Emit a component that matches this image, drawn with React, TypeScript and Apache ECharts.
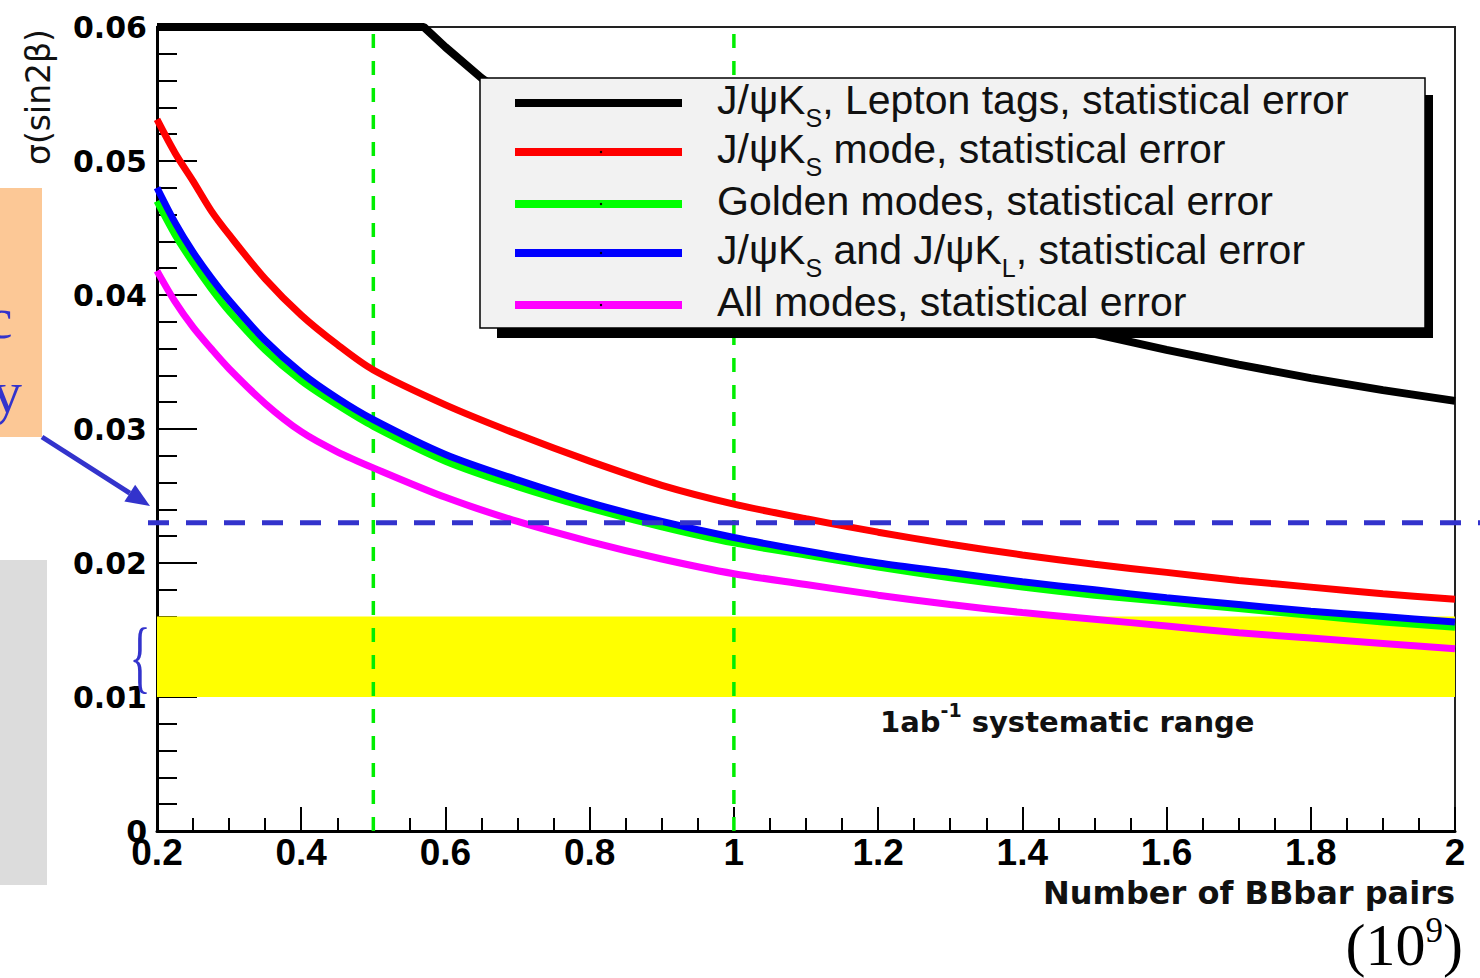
import React, { useEffect, useRef } from "react";
import * as echarts from "echarts";

// ---- data ----
const xPoints = [0.2, 0.225, 0.25, 0.275, 0.3, 0.35, 0.4, 0.45, 0.5, 0.6, 0.7, 0.8, 0.9, 1.0, 1.1, 1.2, 1.3, 1.4, 1.5, 1.6, 1.7, 1.8, 1.9, 2.0];
const redJpsiKs = [0.0531, 0.0506, 0.0485, 0.0463, 0.0445, 0.0412, 0.0385, 0.0363, 0.0344, 0.0318, 0.0296, 0.0276, 0.0258, 0.0244, 0.0233, 0.0223, 0.0214, 0.0206, 0.0199, 0.0193, 0.0187, 0.0182, 0.0177, 0.0173];
const greenGolden = [0.047, 0.0445, 0.0424, 0.0405, 0.0388, 0.0359, 0.0336, 0.0318, 0.0302, 0.0276, 0.0257, 0.0241, 0.0227, 0.0215, 0.0206, 0.0197, 0.0189, 0.0182, 0.0176, 0.0171, 0.0166, 0.0161, 0.0156, 0.0152];
const blueKsKl = [0.048, 0.0454, 0.0432, 0.0413, 0.0396, 0.0366, 0.0342, 0.0323, 0.0307, 0.0281, 0.0262, 0.0245, 0.0231, 0.0219, 0.0209, 0.02, 0.0193, 0.0186, 0.018, 0.0174, 0.0169, 0.0164, 0.016, 0.0156];
const magentaAll = [0.0418, 0.0395, 0.0376, 0.036, 0.0345, 0.0319, 0.0298, 0.0283, 0.0271, 0.0249, 0.0231, 0.0216, 0.0203, 0.0192, 0.0184, 0.0176, 0.0169, 0.0163, 0.0158, 0.0153, 0.0148, 0.0144, 0.014, 0.0136];

const xBlack = [0.2, 0.3, 0.4, 0.5, 0.57, 0.6, 0.65, 0.7, 0.8, 0.9, 1.0, 1.1, 1.2, 1.3, 1.4, 1.5, 1.6, 1.7, 1.8, 1.9, 2.0];
const blackLepton = [0.06, 0.06, 0.06, 0.06, 0.06, 0.0585, 0.0562, 0.0543, 0.0507, 0.0478, 0.0454, 0.0433, 0.0414, 0.0398, 0.0384, 0.0371, 0.0359, 0.0348, 0.0338, 0.0329, 0.0321];

const markerXs = [0.5, 1.0];
const bandLow = 0.01;
const bandHigh = 0.016;
const refLevel = 0.023;

const legendRows = [
  { color: "#000000", text: "{m|J/ψK}{s|S}{m|, Lepton tags, statistical error}" },
  { color: "#ff0000", text: "{m|J/ψK}{s|S}{m| mode, statistical error}" },
  { color: "#00ff00", text: "{m|Golden modes, statistical error}" },
  { color: "#0000ff", text: "{m|J/ψK}{s|S}{m| and J/ψK}{s|L}{m|, statistical error}" },
  { color: "#ff00ff", text: "{m|All modes, statistical error}" },
];

const pair = (xs: number[], ys: number[]) => xs.map((x, i) => [x, ys[i]]);

export default function App() {
  const ref = useRef<HTMLDivElement>(null);
  useEffect(() => {
    const chart = echarts.init(ref.current!, null, { renderer: "svg" });
    const curve = (data: number[][], color: string, width: number, z: number, smooth: number | boolean) => ({
      type: "line",
      data,
      symbol: "none",
      smooth,
      z,
      silent: true,
      lineStyle: { color, width, cap: "butt" },
    });
    const option: any = {
      animation: false,
      backgroundColor: "#ffffff",
      grid: { left: 157, right: 25, top: 27, bottom: 147, show: true, borderColor: "#222", borderWidth: 2, backgroundColor: "#fff" },
      xAxis: {
        type: "value",
        min: 0.2,
        max: 2,
        interval: 0.2,
        axisLine: { lineStyle: { color: "#000", width: 3 } },
        axisTick: { inside: true, length: 24, lineStyle: { color: "#000", width: 2 } },
        minorTick: { show: true, splitNumber: 4, length: 13, lineStyle: { color: "#000", width: 2 } },
        splitLine: { show: false },
        axisLabel: {
          margin: 3,
          color: "#000",
          fontFamily: "Liberation Sans",
          fontWeight: "bold",
          fontSize: 37,
          formatter: (v: number) => String(Number(v.toFixed(1))),
        },
      },
      yAxis: {
        type: "value",
        min: 0,
        max: 0.06,
        interval: 0.01,
        axisLine: { lineStyle: { color: "#000", width: 3 } },
        axisTick: { inside: true, length: 40, lineStyle: { color: "#000", width: 2 } },
        minorTick: { show: true, splitNumber: 5, length: 20, lineStyle: { color: "#000", width: 2 } },
        splitLine: { show: false },
        axisLabel: {
          margin: 10,
          color: "#000",
          fontFamily: "DejaVu Sans",
          fontWeight: "bold",
          fontSize: 30,
          formatter: (v: number) => (v === 0 ? "0" : v.toFixed(2)),
        },
      },
      series: [
        {
          type: "line",
          data: [],
          z: 1,
          silent: true,
          markArea: {
            silent: true,
            itemStyle: { color: "#ffff00", opacity: 1 },
            data: [[{ yAxis: bandLow }, { yAxis: bandHigh }]],
          },
        },
        ...markerXs.map((mx) => ({
          type: "line",
          data: [[mx, 0], [mx, 0.06]],
          symbol: "none",
          z: 2,
          silent: true,
          lineStyle: { color: "#00ee00", width: 3.5, type: [14, 13] },
        })),
        curve(pair(xBlack, blackLepton), "#000000", 8, 3, false),
        curve(pair(xPoints, redJpsiKs), "#ff0000", 7, 4, 0.3),
        curve(pair(xPoints, greenGolden), "#00ff00", 7, 5, 0.3),
        curve(pair(xPoints, blueKsKl), "#0000ff", 7, 6, 0.3),
        curve(pair(xPoints, magentaAll), "#ff00ff", 7, 7, 0.3),
      ],
    };
    chart.setOption(option);
    const refPx = chart.convertToPixel({ gridIndex: 0 }, [0.2, refLevel]) as number[];
    const ry = refPx[1];

    const rowY = [103, 152, 204, 253, 305];
    const legendEls: any[] = [
      { type: "rect", z: 100, shape: { x: 497, y: 95, width: 936, height: 243 }, style: { fill: "#000" } },
      { type: "rect", z: 101, shape: { x: 480, y: 78, width: 945, height: 250 }, style: { fill: "#f2f2f2", stroke: "#000", lineWidth: 1.5 } },
    ];
    legendRows.forEach((r, i) => {
      legendEls.push({ type: "line", z: 102, shape: { x1: 515, y1: rowY[i], x2: 682, y2: rowY[i] }, style: { stroke: r.color, lineWidth: 8 } });
      if (i > 0) legendEls.push({ type: "circle", z: 103, shape: { cx: 601, cy: rowY[i], r: 1.2 }, style: { fill: "#000" } });
      legendEls.push({
        type: "text",
        z: 103,
        x: 717,
        y: rowY[i] - 3,
        style: {
          text: r.text,
          fill: "#111",
          verticalAlign: "middle",
          align: "left",
          rich: {
            m: { fontSize: 41, fontFamily: "Liberation Sans", lineHeight: 60, fill: "#111" },
            s: { fontSize: 25, fontFamily: "Liberation Sans", lineHeight: 25, verticalAlign: "bottom", fill: "#111" },
          },
        },
      });
    });

    // arrow geometry
    const tip = [150, 506];
    const tail = [42, 437];
    const dx = tip[0] - tail[0], dy = tip[1] - tail[1];
    const len = Math.hypot(dx, dy);
    const ux = dx / len, uy = dy / len;
    const hl = 24, hw = 10;
    const bx = tip[0] - hl * ux, by = tip[1] - hl * uy;

    const graphics: any[] = [
      { type: "rect", z: 60, shape: { x: 0, y: 188, width: 42, height: 249 }, style: { fill: "#fcc896" } },
      { type: "text", z: 61, x: -14, y: 318, style: { text: "c", fill: "#3333cc", fontFamily: "Liberation Serif", fontSize: 60, verticalAlign: "middle", align: "left" } },
      { type: "text", z: 61, x: -8, y: 392, style: { text: "y", fill: "#3333cc", fontFamily: "Liberation Serif", fontSize: 60, verticalAlign: "middle", align: "left" } },
      { type: "rect", z: 60, shape: { x: 0, y: 560, width: 47, height: 325 }, style: { fill: "#dcdcdc" } },
      { type: "line", z: 60, shape: { x1: tail[0], y1: tail[1], x2: bx, y2: by }, style: { stroke: "#3333cc", lineWidth: 5 } },
      {
        type: "polygon",
        z: 60,
        shape: { points: [[tip[0], tip[1]], [bx - hw * uy, by + hw * ux], [bx + hw * uy, by - hw * ux]] },
        style: { fill: "#3333cc" },
      },
      { type: "line", z: 50, shape: { x1: 148, y1: ry, x2: 1480, y2: ry }, style: { stroke: "#3333cc", lineWidth: 5, lineDash: [21, 17] } },
      { type: "text", z: 60, x: 140, y: 656, scaleX: 0.55, style: { text: "{", fill: "#3333cc", fontFamily: "Liberation Serif", fontSize: 80, verticalAlign: "middle", align: "center" } },
      {
        type: "text",
        z: 60,
        x: 880,
        y: 722,
        style: {
          text: "{b|1ab}{p|-1}{b| systematic range}",
          fill: "#111",
          verticalAlign: "middle",
          align: "left",
          rich: {
            b: { fontSize: 29, fontFamily: "DejaVu Sans", fontWeight: "bold", lineHeight: 44, fill: "#111" },
            p: { fontSize: 19, fontFamily: "DejaVu Sans", fontWeight: "bold", lineHeight: 19, verticalAlign: "top", fill: "#111" },
          },
        },
      },
      { type: "text", z: 60, x: 1455, y: 893, style: { text: "Number of BBbar pairs", fill: "#111", fontFamily: "DejaVu Sans", fontWeight: "bold", fontSize: 32, verticalAlign: "middle", align: "right" } },
      {
        type: "text",
        z: 60,
        x: 38,
        y: 97,
        rotation: Math.PI / 2,
        style: { text: "σ(sin2β)", fill: "#111", fontFamily: "DejaVu Sans", fontSize: 33, verticalAlign: "middle", align: "center" },
      },
      {
        type: "text",
        z: 60,
        x: 1463,
        y: 945,
        style: {
          text: "{a|(10}{s|9}{a|)}",
          fill: "#000",
          verticalAlign: "middle",
          align: "right",
          rich: {
            a: { fontSize: 60, fontFamily: "Liberation Serif", lineHeight: 64, fill: "#000" },
            s: { fontSize: 35, fontFamily: "Liberation Serif", lineHeight: 35, verticalAlign: "top", fill: "#000" },
          },
        },
      },
      ...legendEls,
    ];
    chart.setOption({ graphic: graphics });
    return () => chart.dispose();
  }, []);
  return <div ref={ref} style={{ position: "absolute", left: 0, top: 0, width: 1480, height: 978 }} />;
}
